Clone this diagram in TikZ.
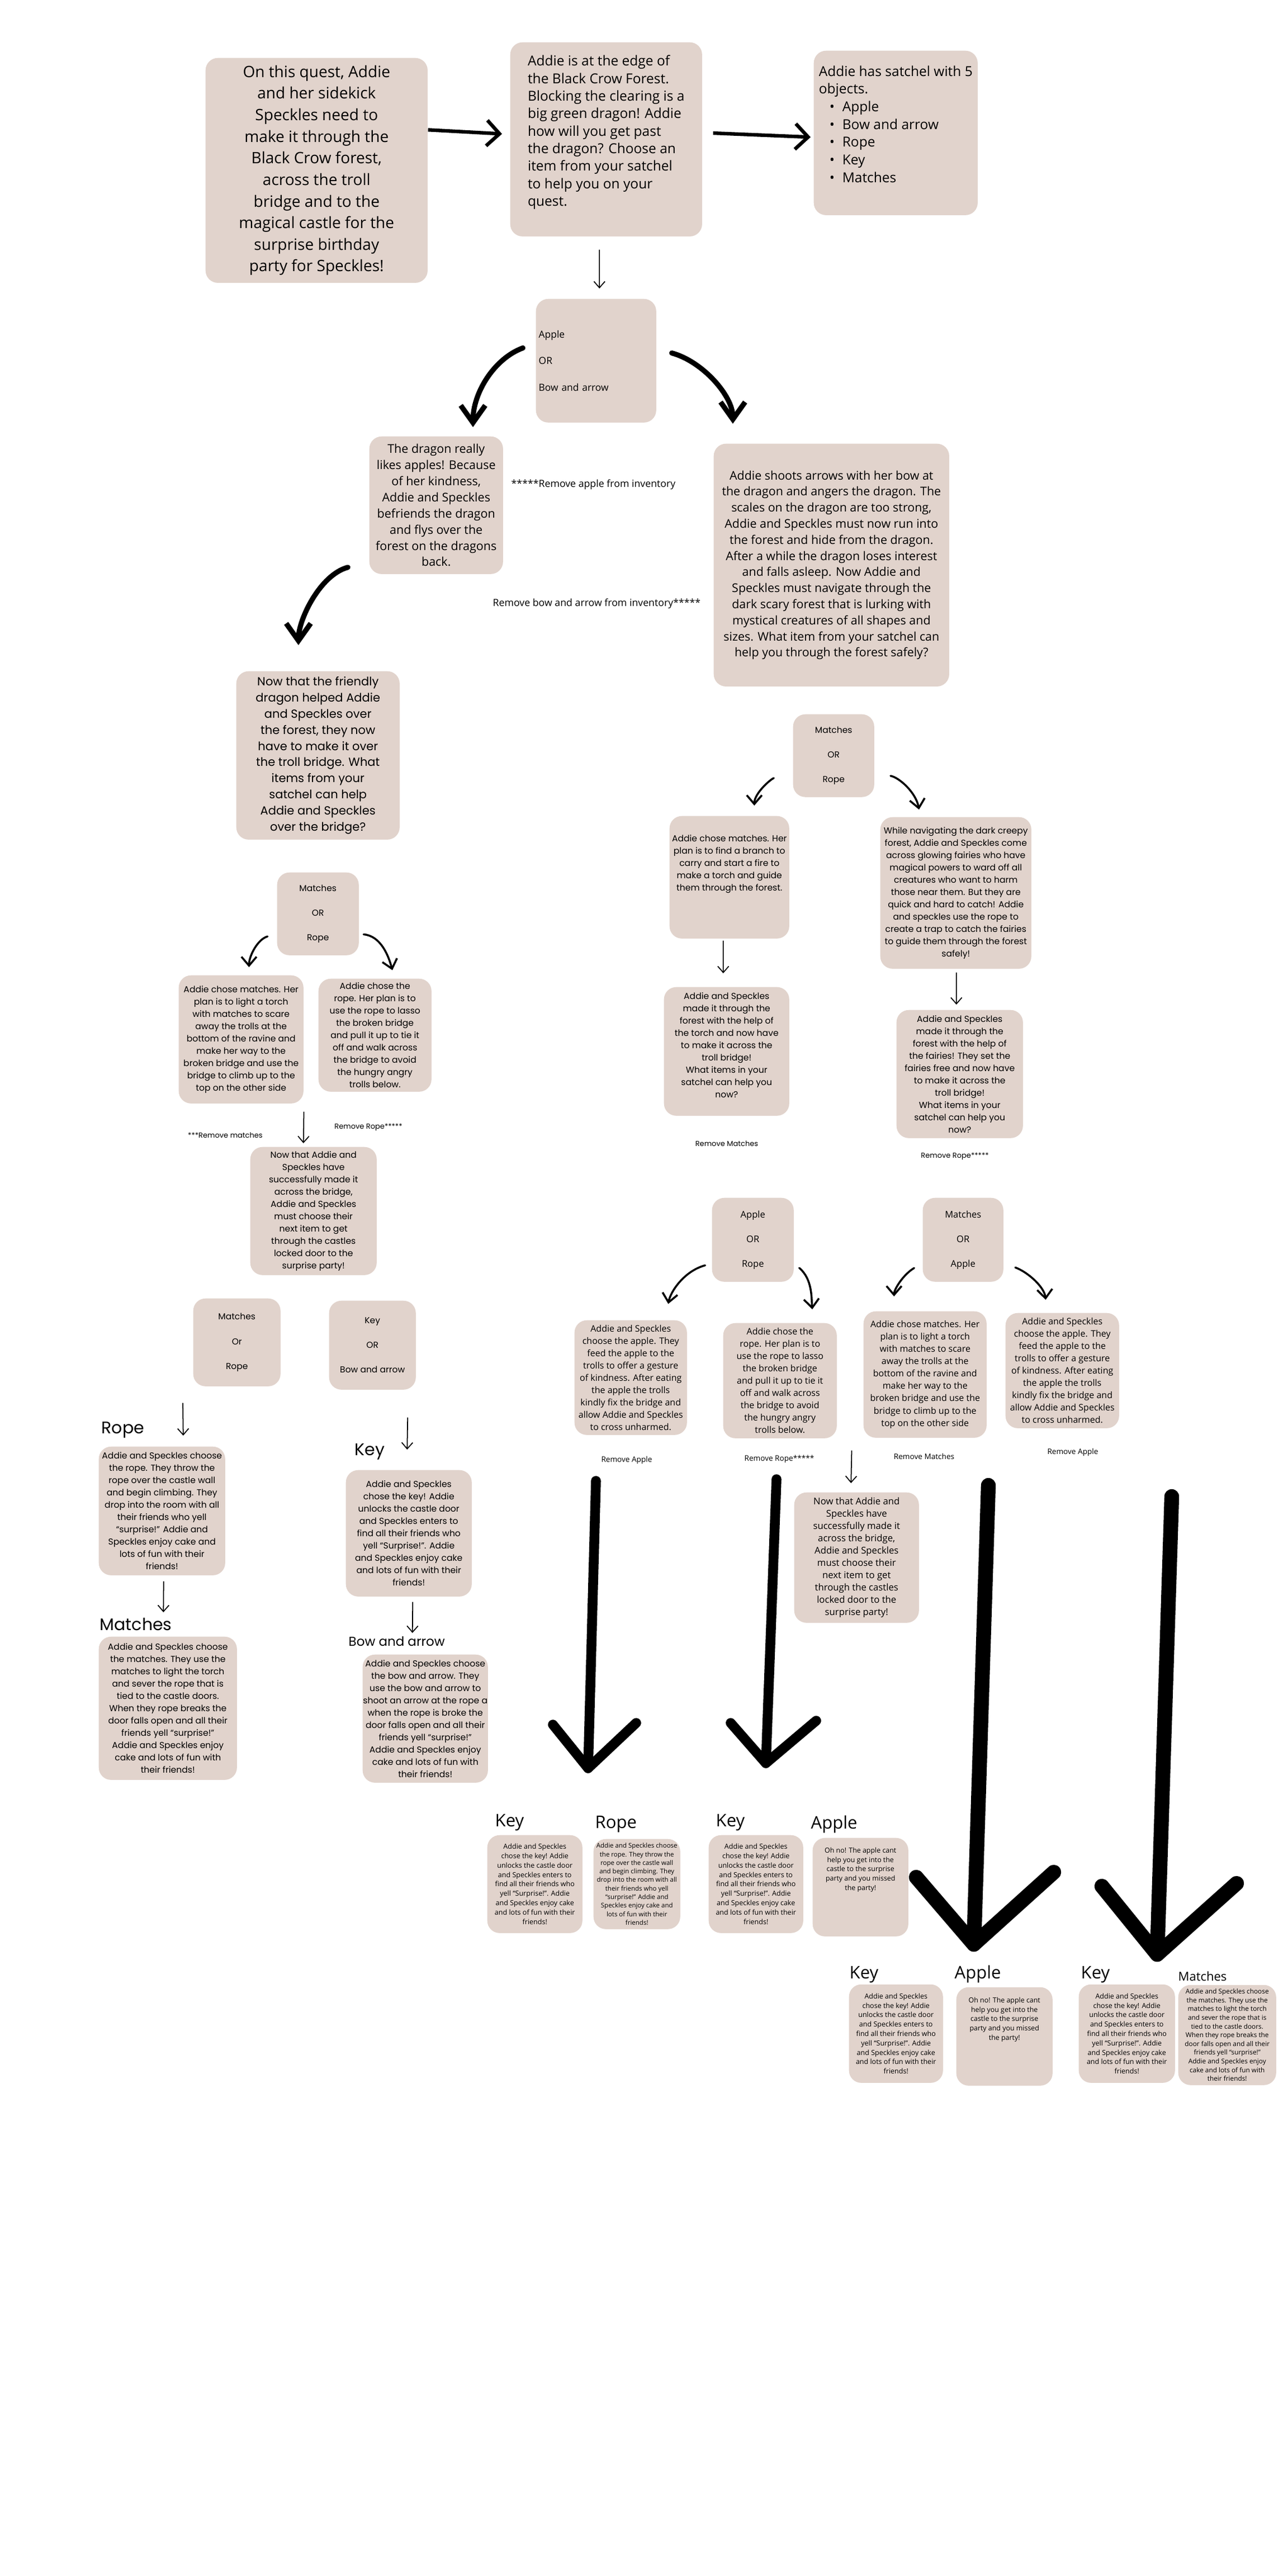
\documentclass[tikz,border=0pt]{standalone}
\usepackage{fontspec}
\setmainfont{Open Sans}
\newfontfamily\geofont{Poppins}
\usetikzlibrary{arrows.meta}
\definecolor{cardfill}{HTML}{E1D3CC}

\begin{document}
\begin{tikzpicture}[x=0.01cm,y=0.01cm,
    card/.style={fill=cardfill,rounded corners=0.22cm,inner sep=0pt,anchor=north west,align=center},
    leftcard/.style={card,align=left},
    heading/.style={anchor=west,inner sep=0pt},
    remark/.style={inner sep=0pt},
    heavy/.style={line width=1.8pt,-{Straight Barb[length=6.5pt,width=13pt]}},
    swoop/.style={line width=2.6pt,line cap=round,-{Straight Barb[length=8.8pt,width=12.5pt]}},
    curl/.style={line width=1pt,line cap=round,-{Straight Barb[length=4.5pt,width=7.7pt]}},
    thinline/.style={line width=0.5pt,-{Straight Barb[length=3.2pt,width=5.6pt]}},
    hugearrow/.style={line cap=round,line join=round}]
    \pgfmathsetmacro{\pagewidth}{2304}
    \pgfmathsetmacro{\pageheight}{4608}
    \providecommand{\introfont}{\fontsize{7.97pt}{10.98pt}\selectfont}
    \providecommand{\edgefont}{\fontsize{6.97pt}{8.91pt}\selectfont}
    \providecommand{\satchelfont}{\fontsize{6.97pt}{9.02pt}\selectfont}
    \providecommand{\pickfont}{\fontsize{4.95pt}{13.52pt}\selectfont}
    \providecommand{\storyfont}{\fontsize{6.12pt}{8.22pt}\selectfont}
    \providecommand{\bowfont}{\fontsize{6.09pt}{8.19pt}\selectfont}
    \providecommand{\notefont}{\fontsize{5.04pt}{6pt}\selectfont}
    \providecommand{\geostory}{\geofont\fontsize{5.98pt}{8.22pt}\selectfont}
    \providecommand{\geopick}{\geofont\fontsize{4.41pt}{12.52pt}\selectfont}
    \providecommand{\geocard}{\geofont\fontsize{4.44pt}{6.26pt}\selectfont}
    \providecommand{\geonote}{\geofont\fontsize{3.7pt}{4.5pt}\selectfont}
    \providecommand{\geohead}{\geofont\fontsize{8.54pt}{10pt}\selectfont}
    \providecommand{\geosub}{\geofont\fontsize{6.54pt}{8pt}\selectfont}
    \providecommand{\pickAfont}{\fontsize{4.69pt}{12.52pt}\selectfont}
    \providecommand{\cardfont}{\fontsize{4.55pt}{6.26pt}\selectfont}
    \providecommand{\castlefont}{\fontsize{4.75pt}{6.26pt}\selectfont}
    \providecommand{\smallnote}{\fontsize{3.87pt}{4.6pt}\selectfont}
    \providecommand{\finalhead}{\fontsize{8.82pt}{10pt}\selectfont}
    \providecommand{\finalsub}{\fontsize{6.26pt}{7.5pt}\selectfont}
    \providecommand{\keyfont}{\fontsize{3.56pt}{4.77pt}\selectfont}
    \providecommand{\ropefont}{\fontsize{3.27pt}{4.35pt}\selectfont}
    \providecommand{\applefont}{\fontsize{3.53pt}{4.75pt}\selectfont}
    \providecommand{\matchfont}{\fontsize{3.36pt}{4.44pt}\selectfont}
    \fill[white] (0,0) rectangle (\pagewidth,-\pageheight);
    \useasboundingbox (0,0) rectangle (\pagewidth,-\pageheight);
    % start of the quest
    \node[card,minimum width=3.97cm,minimum height=4.02cm,font=\introfont] (intro) at (367,-103)
    {On this quest, Addie\\and her sidekick\\Speckles need to\\make it through the\\Black Crow forest,\\across the troll\\bridge and to the\\magical castle for the\\surprise birthday\\party for Speckles!};
    \node[leftcard,minimum width=3.43cm,minimum height=3.47cm,font=\edgefont] (edge) at (912,-75)
    {Addie is at the edge of\\the Black Crow Forest.\\Blocking the clearing is a\\big green dragon! Addie\\how will you get past\\the dragon?  Choose an\\item from your satchel\\to help you on your\\quest.\\\mbox{}};
    \node[leftcard,minimum width=2.93cm,minimum height=2.94cm,font=\satchelfont] (satchel) at (1455,-90)
    {Addie has satchel with 5\\objects.\\\hspace*{0.19cm}\makebox[0.23cm][l]{•}Apple\\\hspace*{0.19cm}\makebox[0.23cm][l]{•}Bow and arrow\\\hspace*{0.19cm}\makebox[0.23cm][l]{•}Rope\\\hspace*{0.19cm}\makebox[0.23cm][l]{•}Key\\\hspace*{0.19cm}\makebox[0.23cm][l]{•}Matches\\\mbox{}};
    \node[leftcard,minimum width=2.15cm,minimum height=2.21cm,text width=2.05cm,font=\pickfont] (dragonpick) at (958,-534)
    {Apple\\OR\\Bow and arrow};
    \node[card,minimum width=2.39cm,minimum height=2.46cm,font=\storyfont] (applepath) at (660,-780)
    {The dragon really\\likes apples! Because\\of her kindness,\\Addie and Speckles\\befriends the dragon\\and flys over the\\forest on the dragons\\back.};
    \node[card,minimum width=4.21cm,minimum height=4.34cm,font=\bowfont] (bowpath) at (1276,-793)
    {Addie shoots arrows with her bow at\\the dragon and angers the dragon. The\\scales on the dragon are too strong,\\Addie and Speckles must now run into\\the forest and hide from the dragon.\\After a while the dragon loses interest\\and falls asleep. Now Addie and\\Speckles must navigate through the\\dark scary forest that is lurking with\\mystical creatures of all shapes and\\sizes. What item from your satchel can\\help you through the forest safely?};
    \node[remark,anchor=west,font=\notefont] (dropapple) at (914,-867) {*****Remove apple from inventory};
    \node[remark,anchor=west,font=\notefont] (dropbow) at (881,-1080) {Remove bow and arrow from inventory*****};
    % apple branch
    \node[card,minimum width=2.92cm,minimum height=3.01cm,font=\geostory] (friendly) at (422,-1200)
    {Now that the friendly\\dragon helped Addie\\and Speckles over\\the forest, they now\\have to make it over\\the troll bridge. What\\items from your\\satchel can help\\Addie and Speckles\\over the bridge?};
    \node[card,minimum width=1.46cm,minimum height=1.48cm,font=\geopick] (bridgepick) at (495,-1560)
    {Matches\\OR\\Rope};
    \node[card,minimum width=2.23cm,minimum height=2.29cm,font=\geocard] (matchbridge) at (319,-1744)
    {Addie chose matches. Her\\plan is to light a torch\\with matches to scare\\away the trolls at the\\bottom of the ravine and\\make her way to the\\broken bridge and use the\\bridge to climb up to the\\top on the other side};
    \node[card,minimum width=2.02cm,minimum height=2.02cm,font=\geocard] (ropebridge) at (569,-1750)
    {Addie chose the\\rope. Her plan is to\\use the rope to lasso\\the broken bridge\\and pull it up to tie it\\off and walk across\\the bridge to avoid\\the hungry angry\\trolls below.};
    \node[remark,font=\geonote] (dropmatchA) at (403,-2031) {***Remove matches};
    \node[remark,font=\geonote] (dropropeA) at (659,-2016) {Remove Rope*****};
    \node[card,minimum width=2.26cm,minimum height=2.29cm,font=\geocard] (castle) at (447,-2051)
    {Now that Addie and\\Speckles have\\successfully made it\\across the bridge,\\Addie and Speckles\\must choose their\\next item to get\\through the castles\\locked door to the\\surprise party!};
    \node[card,minimum width=1.56cm,minimum height=1.57cm,font=\geopick] (castlepickA) at (345,-2322)
    {Matches\\Or\\Rope};
    \node[card,minimum width=1.55cm,minimum height=1.59cm,font=\geopick] (castlepickB) at (588,-2326)
    {Key\\OR\\Bow and arrow};
    \node[heading,font=\geohead] (ropehead) at (181,-2558) {Rope};
    \node[card,minimum width=2.26cm,minimum height=2.30cm,font=\geocard] (ropeend) at (176,-2587)
    {Addie and Speckles choose\\the rope. They throw the\\rope over the castle wall\\and begin climbing. They\\drop into the room with all\\their friends who yell\\“surprise!” Addie and\\Speckles enjoy cake and\\lots of fun with their\\friends!};
    \node[heading,font=\geohead] (matchhead) at (178,-2905) {Matches};
    \node[card,minimum width=2.47cm,minimum height=2.56cm,font=\geocard] (matchend) at (176,-2927)
    {Addie and Speckles choose\\the matches. They use the\\matches to light the torch\\and sever the rope that is\\tied to the castle doors.\\When they rope breaks the\\door falls open and all their\\friends yell “surprise!”\\Addie and Speckles enjoy\\cake and lots of fun with\\their friends!};
    \node[heading,font=\geohead] (keyhead) at (634,-2597) {Key};
    \node[card,minimum width=2.25cm,minimum height=2.26cm,font=\geocard] (keyend) at (618,-2629)
    {Addie and Speckles\\chose the key! Addie\\unlocks the castle door\\and Speckles enters to\\find all their friends who\\yell “Surprise!”. Addie\\and Speckles enjoy cake\\and lots of fun with their\\friends!};
    \node[heading,font=\geosub] (bowhead) at (623,-2936) {Bow and arrow};
    \node[card,minimum width=2.24cm,minimum height=2.29cm,font=\geocard] (bowend) at (648,-2959)
    {Addie and Speckles choose\\the bow and arrow. They\\use the bow and arrow to\\shoot an arrow at the rope a\\when the rope is broke the\\door falls open and all their\\friends yell “surprise!”\\Addie and Speckles enjoy\\cake and lots of fun with\\their friends!};
    % bow branch
    \node[card,minimum width=1.45cm,minimum height=1.48cm,font=\geopick] (forestpick) at (1418,-1277)
    {Matches\\OR\\Rope};
    \node[card,minimum width=2.14cm,minimum height=2.19cm,font=\geocard] (matchforest) at (1197,-1459)
    {Addie chose matches. Her\\plan is to find a branch to\\carry and start a fire to\\make a torch and guide\\them through the forest.\\[8.25pt]\mbox{}};
    \node[card,minimum width=2.70cm,minimum height=2.71cm,font=\geocard] (ropeforest) at (1574,-1461)
    {While navigating the dark creepy\\forest, Addie and Speckles come\\across glowing fairies who have\\magical powers to ward off all\\creatures who want to harm\\those near them. But they are\\quick and hard to catch! Addie\\and speckles use the rope to\\create a trap to catch the fairies\\to guide them through the forest\\safely!};
    \node[card,minimum width=2.24cm,minimum height=2.30cm,font=\geocard] (torchdone) at (1187,-1765)
    {Addie and Speckles\\made it through the\\forest with the help of\\the torch and now have\\to make it across the\\troll bridge!\\What items in your\\satchel can help you\\now?\\\mbox{}};
    \node[card,minimum width=2.26cm,minimum height=2.29cm,font=\geocard] (fairydone) at (1603,-1806)
    {Addie and Speckles\\made it through the\\forest with the help of\\the fairies! They set the\\fairies free and now have\\to make it across the\\troll bridge!\\What items in your\\satchel can help you\\now?};
    \node[remark,font=\geonote] (dropmatchB) at (1300,-2046) {Remove Matches};
    \node[remark,font=\geonote] (dropropeB) at (1708,-2068) {Remove Rope*****};
    \node[card,minimum width=1.46cm,minimum height=1.50cm,font=\pickAfont] (bridgepickA) at (1273,-2142)
    {Apple\\OR\\Rope};
    \node[card,minimum width=1.44cm,minimum height=1.50cm,font=\pickAfont] (bridgepickB) at (1650,-2142)
    {Matches\\OR\\Apple};
    \node[card,minimum width=2.01cm,minimum height=2.05cm,font=\cardfont] (applebridgeA) at (1027,-2361)
    {Addie and Speckles\\choose the apple. They\\feed the apple to the\\trolls to offer a gesture\\of kindness. After eating\\the apple the trolls\\kindly fix the bridge and\\allow Addie and Speckles\\to cross unharmed.};
    \node[card,minimum width=2.03cm,minimum height=2.06cm,font=\cardfont] (ropebridgeB) at (1293,-2366)
    {Addie chose the\\rope. Her plan is to\\use the rope to lasso\\the broken bridge\\and pull it up to tie it\\off and walk across\\the bridge to avoid\\the hungry angry\\trolls below.};
    \node[card,minimum width=2.20cm,minimum height=2.26cm,font=\cardfont] (matchbridgeB) at (1544,-2345)
    {Addie chose matches. Her\\plan is to light a torch\\with matches to scare\\away the trolls at the\\bottom of the ravine and\\make her way to the\\broken bridge and use the\\bridge to climb up to the\\top on the other side};
    \node[card,minimum width=2.03cm,minimum height=2.06cm,font=\cardfont] (applebridgeB) at (1798,-2348)
    {Addie and Speckles\\choose the apple. They\\feed the apple to the\\trolls to offer a gesture\\of kindness. After eating\\the apple the trolls\\kindly fix the bridge and\\allow Addie and Speckles\\to cross unharmed.};
    \node[remark,font=\smallnote] (dropappleC) at (1121,-2612) {Remove Apple};
    \node[remark,font=\smallnote] (dropropeC) at (1394,-2610) {Remove Rope*****};
    \node[remark,font=\smallnote] (dropmatchC) at (1653,-2605) {Remove Matches};
    \node[remark,font=\smallnote] (dropappleD) at (1919,-2598) {Remove Apple};
    \node[card,minimum width=2.23cm,minimum height=2.33cm,font=\castlefont] (castleB) at (1420,-2669)
    {Now that Addie and\\Speckles have\\successfully made it\\across the bridge,\\Addie and Speckles\\must choose their\\next item to get\\through the castles\\locked door to the\\surprise party!};
    % endings
    \node[heading,font=\finalhead] (keyheadA) at (885,-3260) {Key};
    \node[card,minimum width=1.70cm,minimum height=1.75cm,font=\keyfont] (keyA) at (871,-3282)
    {Addie and Speckles\\chose the key! Addie\\unlocks the castle door\\and Speckles enters to\\find all their friends who\\yell “Surprise!”. Addie\\and Speckles enjoy cake\\and lots of fun with their\\friends!};
    \node[heading,font=\finalhead] (ropeheadB) at (1064,-3263) {Rope};
    \node[card,minimum width=1.55cm,minimum height=1.61cm,font=\ropefont] (ropeB) at (1061,-3289)
    {Addie and Speckles choose\\the rope. They throw the\\rope over the castle wall\\and begin climbing. They\\drop into the room with all\\their friends who yell\\“surprise!” Addie and\\Speckles enjoy cake and\\lots of fun with their\\friends!};
    \node[heading,font=\finalhead] (keyheadC) at (1280,-3260) {Key};
    \node[card,minimum width=1.69cm,minimum height=1.75cm,font=\keyfont] (keyC) at (1267,-3282)
    {Addie and Speckles\\chose the key! Addie\\unlocks the castle door\\and Speckles enters to\\find all their friends who\\yell “Surprise!”. Addie\\and Speckles enjoy cake\\and lots of fun with their\\friends!};
    \node[heading,font=\finalhead] (appleheadD) at (1450,-3263) {Apple};
    \node[card,minimum width=1.71cm,minimum height=1.76cm,font=\applefont] (appleD) at (1453,-3287)
    {Oh no! The apple cant\\help you get into the\\castle to the surprise\\party and you missed\\the party!\\[13.8pt]\mbox{}};
    \node[heading,font=\finalhead] (keyheadE) at (1519,-3532) {Key};
    \node[card,minimum width=1.68cm,minimum height=1.76cm,font=\keyfont] (keyE) at (1518,-3549)
    {Addie and Speckles\\chose the key! Addie\\unlocks the castle door\\and Speckles enters to\\find all their friends who\\yell “Surprise!”. Addie\\and Speckles enjoy cake\\and lots of fun with their\\friends!};
    \node[heading,font=\finalhead] (appleheadF) at (1707,-3531) {Apple};
    \node[card,minimum width=1.72cm,minimum height=1.76cm,font=\applefont] (appleF) at (1710,-3554)
    {Oh no! The apple cant\\help you get into the\\castle to the surprise\\party and you missed\\the party!\\[13.2pt]\mbox{}};
    \node[heading,font=\finalhead] (keyheadG) at (1933,-3532) {Key};
    \node[card,minimum width=1.72cm,minimum height=1.76cm,font=\keyfont] (keyG) at (1929,-3549)
    {Addie and Speckles\\chose the key! Addie\\unlocks the castle door\\and Speckles enters to\\find all their friends who\\yell “Surprise!”. Addie\\and Speckles enjoy cake\\and lots of fun with their\\friends!};
    \node[heading,font=\finalsub] (matchheadH) at (2107,-3535) {Matches};
    \node[card,minimum width=1.75cm,minimum height=1.79cm,font=\matchfont] (matchH) at (2107,-3550)
    {Addie and Speckles choose\\the matches. They use the\\matches to light the torch\\and sever the rope that is\\tied to the castle doors.\\When they rope breaks the\\door falls open and all their\\friends yell “surprise!”\\Addie and Speckles enjoy\\cake and lots of fun with\\their friends!};
    % connectors
    \draw[heavy,shorten >=0.14cm] (intro.20) -- (edge.177);
    \draw[heavy,shorten <=0.19cm,shorten >=0.05cm] (edge.4) -- (satchel.183);
    \draw[thinline] ([shift={(-12,-23)}]edge.south) -- ([shift={(6,18)}]dragonpick.north);
    \draw[swoop,shorten <=0.24cm,shorten >=0.16cm] (dragonpick.164) to[out=200,in=90] (applepath.62);
    \draw[swoop,shorten <=0.28cm,shorten >=0.35cm] (dragonpick.11) to[out=-15,in=90] (bowpath.129);
    \draw[swoop,shorten <=0.39cm,shorten >=0.46cm] (applepath.220) to[out=195,in=90] (friendly.103);
    \draw[curl,shorten <=0.17cm,shorten >=0.14cm] (bridgepick.206) to[out=195,in=90] (matchbridge.83);
    \draw[curl,shorten <=0.08cm,shorten >=0.15cm] (bridgepick.334) to[out=-5,in=105] (ropebridge.71);
    \draw[thinline] ([shift={(0,-14)}]matchbridge.south east) -- ([shift={(-18,6)}]castle.north);
    \draw[thinline] ([shift={(-18,-29)}]castlepickA.south west) -- ([shift={(38,19)}]ropeend.north);
    \draw[thinline] ([shift={(3,-10)}]ropeend.south) -- ([shift={(-8,43)}]matchend.north);
    \draw[thinline] ([shift={(63,-49)}]castlepickB.south) -- ([shift={(-3,36)}]keyend.north);
    \draw[thinline] ([shift={(7,-9)}]keyend.south) -- ([shift={(-23,38)}]bowend.north);
    \draw[curl,shorten <=0.35cm,shorten >=0.18cm] (forestpick.203) to[out=195,in=90] (matchforest.68);
    \draw[curl,shorten <=0.29cm,shorten >=0.13cm] (forestpick.337) to[out=-10,in=100] (ropeforest.115);
    \draw[thinline] ([shift={(-11,-3)}]matchforest.south) -- ([shift={(-6,24)}]torchdone.north);
    \draw[thinline] ([shift={(1,-6)}]ropeforest.south) -- ([shift={(-6,9)}]fairydone.north);
    \draw[curl,shorten <=0.12cm,shorten >=0.29cm] (bridgepickA.210) to[out=195,in=80] (applebridgeA.59);
    \draw[curl,shorten <=0.12cm,shorten >=0.24cm] (bridgepickA.330) to[out=-40,in=95] (ropebridgeB.60);
    \draw[curl,shorten <=0.17cm,shorten >=0.26cm] (bridgepickB.210) to[out=210,in=90] (matchbridgeB.116);
    \draw[curl,shorten <=0.22cm,shorten >=0.23cm] (bridgepickB.330) to[out=-20,in=95] (applebridgeB.105);
    \draw[thinline] ([shift={(26,-21)}]ropebridgeB.south east) -- ([shift={(-10,16)}]castleB.north);
    % the four big arrows
    \coordinate (shaftA) at (1066,-2649);
    \coordinate (tipA) at (1052,-3163);
    \coordinate (wingAl) at (989,-3085);
    \coordinate (wingAr) at (1138,-3082);
    \coordinate (shaftB) at (1389,-2646);
    \coordinate (tipB) at (1370,-3154);
    \coordinate (wingBl) at (1307,-3082);
    \coordinate (wingBr) at (1460,-3078);
    \coordinate (shaftC) at (1768,-2657);
    \coordinate (tipC) at (1742,-3478);
    \coordinate (wingCl) at (1639,-3358);
    \coordinate (wingCr) at (1885,-3349);
    \coordinate (shaftD) at (2096,-2677);
    \coordinate (tipD) at (2070,-3496);
    \coordinate (wingDl) at (1971,-3374);
    \coordinate (wingDr) at (2212,-3369);
    \draw[hugearrow,line width=5pt] (shaftA) -- (tipA);
    \draw[hugearrow,line width=5pt] (wingAl) -- (tipA) -- (wingAr);
    \draw[hugearrow,line width=5pt] (shaftB) -- (tipB);
    \draw[hugearrow,line width=5pt] (wingBl) -- (tipB) -- (wingBr);
    \draw[hugearrow,line width=7.5pt] (shaftC) -- (tipC);
    \draw[hugearrow,line width=7.5pt] (wingCl) -- (tipC) -- (wingCr);
    \draw[hugearrow,line width=7.5pt] (shaftD) -- (tipD);
    \draw[hugearrow,line width=7.5pt] (wingDl) -- (tipD) -- (wingDr);
\end{tikzpicture}
\end{document}
